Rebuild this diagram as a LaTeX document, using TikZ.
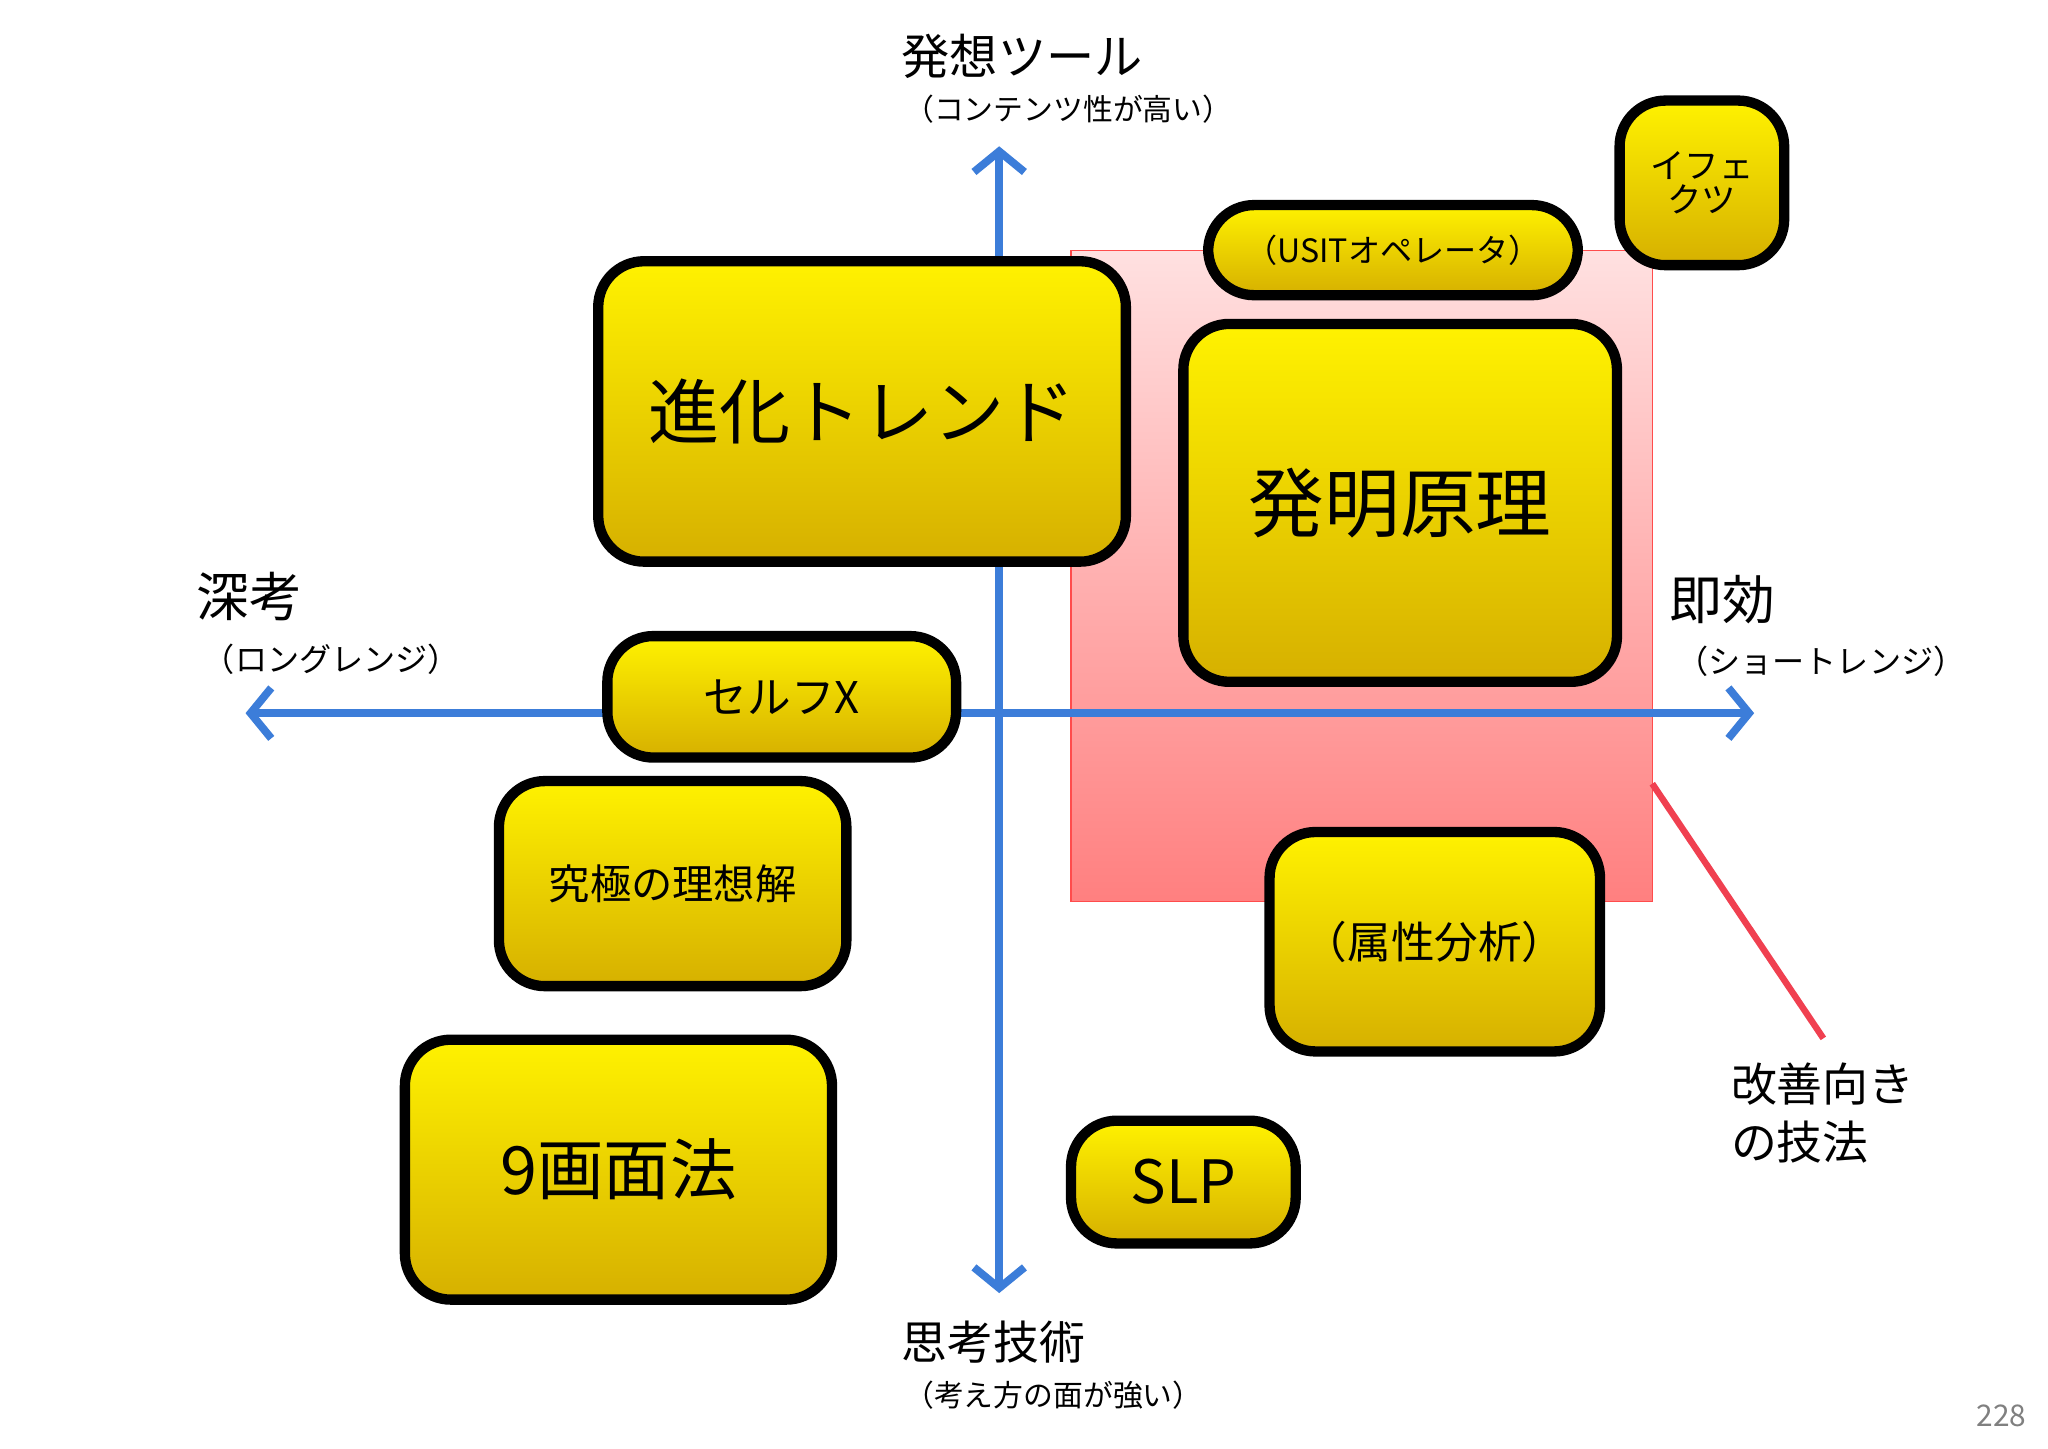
\documentclass[tikz,border=0pt]{standalone}
\usepackage{fontspec}
\setmainfont{Noto Sans CJK JP}
\usetikzlibrary{arrows.meta}
\definecolor{ax}{HTML}{3C7DD9}
\definecolor{ytop}{HTML}{FFF200}
\definecolor{ybot}{HTML}{D6B000}
\newcommand{\bx}[7]{\node[box,minimum width={(#4-#2)*0.02cm},minimum height={(#5-#3)*0.02cm},font=\fontsize{#6}{#6}\selectfont] (#1) at ({(#2+#4)/2},{(#3+#5)/2}) {#7};}
\begin{document}
\begin{tikzpicture}[x=0.02cm,y=-0.02cm,
 box/.style={draw=black,line width=4.5pt,rounded corners=20pt,top color=ytop,bottom color=ybot,align=center,inner sep=0pt},
 axis/.style={ax,line width=3.4pt,-{Straight Barb[length=9pt,width=22pt,line width=3.4pt]}},
 lab/.style={inner sep=0pt,anchor=base west}]
\useasboundingbox (0,0) rectangle (1568,1109);
\fill[white] (0,0) rectangle (1568,1109);
\shade[top color=red!12,bottom color=red!50] (820,192) rectangle (1265,690);
\draw[red!70,line width=0.6pt] (820,192) rectangle (1265,690);
\coordinate (c) at (765,546);
\coordinate (up) at (765,112); \coordinate (dn) at (765,990);
\coordinate (lf) at (188,546); \coordinate (rt) at (1343,546);
\draw[axis] (c) -- (up); \draw[axis] (c) -- (dn);
\draw[axis] (c) -- (lf); \draw[axis] (c) -- (rt);
\coordinate (r1) at (1265,600); \coordinate (r2) at (1396,795);
\draw[color={rgb,255:red,240;green,64;blue,80},line width=2.8pt] (r1) -- (r2);
\bx{shinka}{458}{200}{862}{430}{31}{進化トレンド}
\bx{hatsumei}{906}{248}{1238}{522}{33}{発明原理}
\bx{usit}{925}{157}{1208}{226}{14}{（USITオペレータ）}
\bx{effect}{1240}{77}{1366}{203}{15}{イフェ\\クツ}
\bx{self}{465}{487}{732}{580}{19}{セルフX}
\bx{kyuu}{382}{598}{648}{755}{18}{究極の理想解}
\bx{nine}{310}{796}{637}{995}{29}{9画面法}
\bx{zoku}{972}{637}{1225}{805}{19}{（属性分析）}
\bx{slp}{820}{858}{992}{952}{26}{SLP}
\node[lab,font=\fontsize{21}{21}\selectfont] (t1) at (690,57) {発想ツール};
\node[lab,font=\fontsize{13}{13}\selectfont] (t2) at (692,92) {（コンテンツ性が高い）};
\node[lab,font=\fontsize{23}{23}\selectfont] (l1) at (150,472) {深考};
\node[lab,font=\fontsize{14}{14}\selectfont] (l2) at (155,514) {（ロングレンジ）};
\node[lab,font=\fontsize{23}{23}\selectfont] (r1t) at (1278,474) {即効};
\node[lab,font=\fontsize{14}{14}\selectfont] (r2t) at (1283,516) {（ショートレンジ）};
\node[lab,font=\fontsize{20}{20}\selectfont] (b1) at (690,1041) {思考技術};
\node[lab,font=\fontsize{13}{13}\selectfont] (b2) at (692,1077) {（考え方の面が強い）};
\node[lab,font=\fontsize{20}{20}\selectfont] (k1) at (1325,843) {改善向き};
\node[lab,font=\fontsize{20}{20}\selectfont] (k2) at (1325,888) {の技法};
\node[lab,font=\fontsize{13}{13}\selectfont,text=gray] (pg) at (1513,1092) {228};
\end{tikzpicture}
\end{document}
